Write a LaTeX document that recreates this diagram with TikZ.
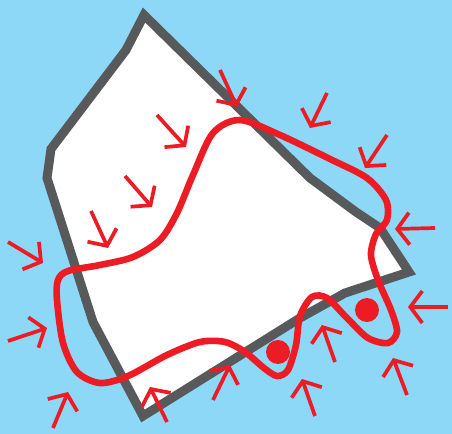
\documentclass[tikz,border=0pt]{standalone}
\usetikzlibrary{arrows.meta}
\definecolor{sky}{RGB}{141,215,247}
\definecolor{wallgray}{RGB}{88,89,91}
\definecolor{alarm}{RGB}{237,28,36}

\begin{document}
\begin{tikzpicture}[
  x=0.5pt,y=-0.5pt,
  outline/.style={draw=wallgray,fill=white,line width=4.5pt,line join=miter},
  loopline/.style={alarm,line width=3.3pt},
  push/.style={alarm,line width=1.85pt,-{Straight Barb[length=6pt,width=16pt]}},
  dot/.style={circle,fill=alarm,minimum size=12pt,inner sep=0pt}
]
  \useasboundingbox (0,0) rectangle (452,434);
  \fill[sky] (0,0) rectangle (452,434);

  % the plot
  \draw[outline] (144,15) -- (126,50) -- (51,149) -- (47,178) -- (93,322) -- (143,416)
    -- (300,318) -- (345,293) -- (409,272) -- (380,228) -- (356,212) -- (310,178) -- cycle;

  % pressure from outside
  \foreach \xa/\ya/\xb/\yb in {220/70/237/107, 327/93/310/128, 387/135/365/168,
      435/228/395/229, 448/307/408/307, 407/395/393/358, 315/416/302/379,
      335/362/322/325, 213/400/230/365, 167/422/150/387, 53/428/68/392,
      8/341/47/328, 8/242/43/263, 91/211/108/248, 125/176/152/207, 157/115/186/147}
    \draw[push] (\xa,\ya) -- (\xb,\yb);

  % the boundary line
  \draw[loopline] plot[smooth cycle] coordinates {
    (240,120) (280,135) (330,159) (367,178) (386,200) (387,220) (376,234)
    (371,255) (378,280) (391,310) (397,332) (388,343) (368,338) (347,318)
    (327,298) (312,297) (300,316) (296,345) (288,370) (277,376) (264,368)
    (245,352) (225,342) (200,342) (167,355) (128,376) (100,383) (77,372)
    (63,343) (57,300) (58,280) (68,271) (100,265) (133,257) (160,240)
    (177,213) (193,175) (213,133)};

  \node[dot] (d1) at (278,352) {};
  \node[dot] (d2) at (367,310) {};
\end{tikzpicture}
\end{document}
